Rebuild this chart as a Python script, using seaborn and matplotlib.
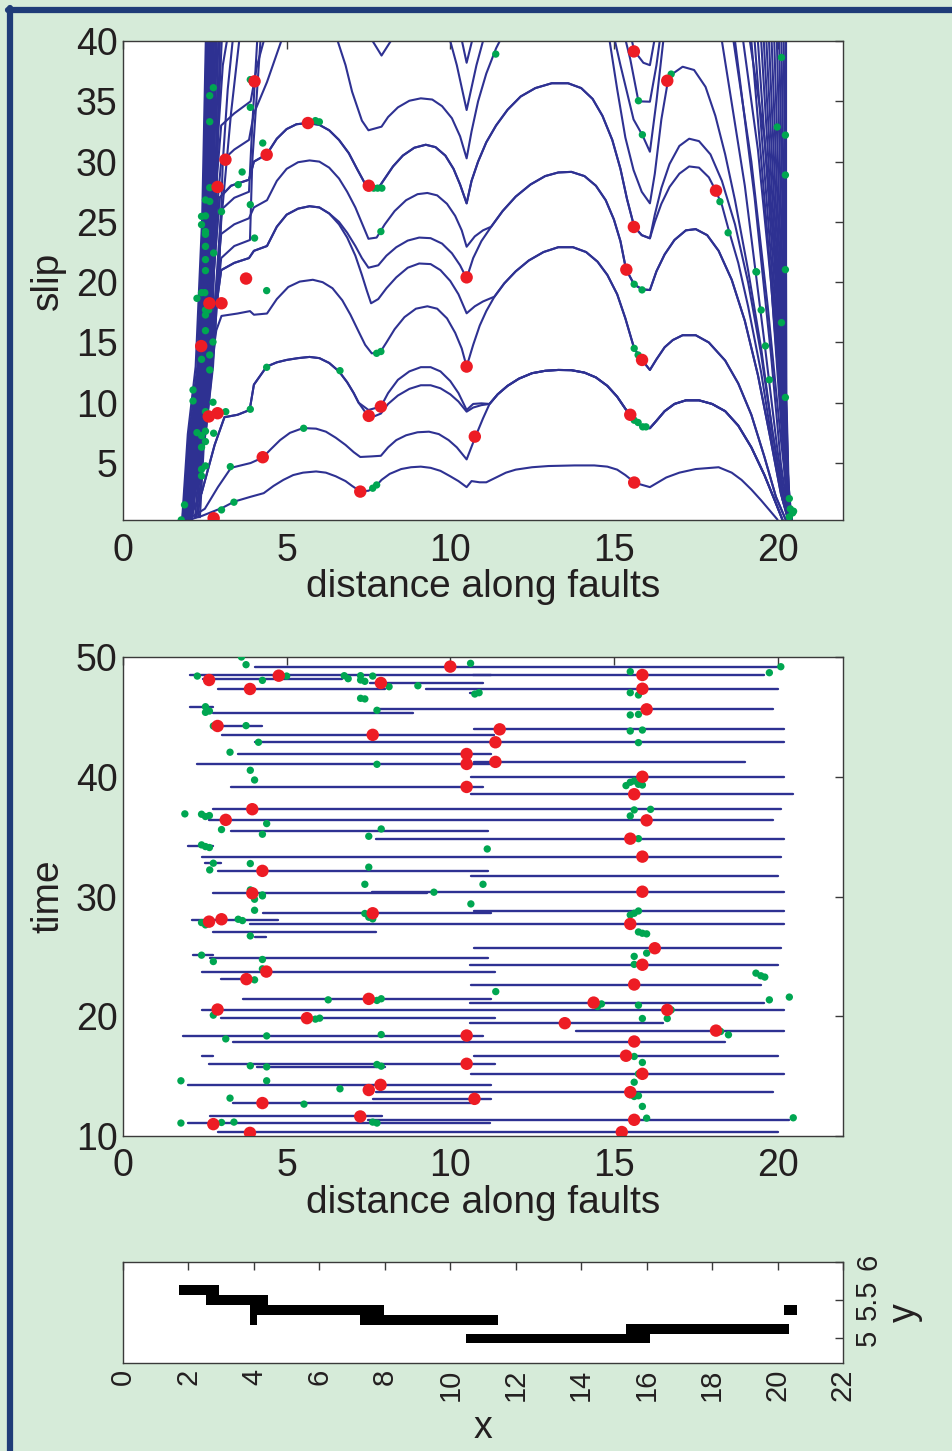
import numpy as np
import pandas as pd
import matplotlib
matplotlib.use('Agg')
import matplotlib.pyplot as plt
import seaborn as sns
from matplotlib.lines import Line2D

# ---------------- DATA ----------------
# Top panel: slip profiles, stored per fault segment (x, slip)
# left parts (faults 1-3)
L1 = [(1.78,0.1),(2.4,0.6),(3.05,1.3),(3.4,1.8),(3.9,2.2),(4.3,2.5),(4.6,3.1),(4.9,3.6),(5.2,4.0),(5.5,4.2),(5.9,4.3),(6.2,4.2),(6.5,3.9),(6.8,3.5),(7.0,3.1)]
L2 = [(1.9,0.2),(2.5,1.2),(2.9,3.0),(3.3,4.6),(3.9,5.0),(4.27,5.45),(4.5,6.1),(4.8,6.9),(5.1,7.5),(5.5,7.9),(5.9,7.85),(6.2,7.6),(6.5,7.1),(6.8,6.5),(7.05,5.9)]
L3 = [(2.0,0.3),(2.4,2.5),(2.8,6.5),(3.1,8.8),(3.5,9.0),(3.87,9.4),(4.0,11.5),(4.39,13.0),(4.7,13.35),(5.0,13.55),(5.35,13.7),(5.7,13.8),(6.0,13.7),(6.3,13.3),(6.6,12.6),(6.85,11.7),(7.05,10.8)]
L4 = [(2.0,0.3),(2.4,5.0),(2.64,12.0),(2.85,16.0),(3.01,17.2),(3.5,17.4),(3.88,17.6),(4.0,17.3),(4.4,17.4),(4.7,18.6),(5.05,19.6),(5.4,20.05),(5.8,20.2),(6.1,20.0),(6.4,19.5),(6.7,18.5),(6.95,17.3),(7.2,15.9),(7.4,14.8)]
L5 = [(2.05,0.4),(2.45,8.0),(2.75,16.0),(3.0,21.0),(3.4,21.6),(3.85,22.0),(4.0,22.6),(4.4,23.0),(4.7,24.6),(5.0,25.6),(5.35,26.1),(5.7,26.3),(6.0,26.2),(6.3,25.7)]
L5a = [(6.6,24.8),(6.85,23.7),(7.1,22.2),(7.3,20.6),(7.45,19.3)]
L5b = [(6.6,25.0),(6.85,24.1),(7.1,23.0),(7.3,22.0)]
L7 = [(2.1,0.5),(2.5,9.0),(2.8,18.0),(3.0,24.0),(3.4,24.8),(3.85,25.3),(4.0,26.2),(4.4,26.8),(4.7,28.4),(5.0,29.4),(5.35,29.95),(5.7,30.1),(6.0,30.0),(6.3,29.5),(6.6,28.6),(6.85,27.5),(7.1,26.2),(7.3,24.9)]
L8 = [(2.1,0.5),(2.5,10.0),(2.75,20.0),(2.95,27.0),(3.3,28.0),(3.85,28.5),(4.0,30.0),(4.39,30.6),(4.7,31.9),(5.0,32.7),(5.3,33.1),(5.65,33.2),(6.0,33.05),(6.3,32.6),(6.6,31.8),(6.9,30.7),(7.15,29.4)]
L9 = [(2.2,0.5),(2.55,12.0),(2.8,24.0),(3.0,30.0),(3.4,31.0),(3.85,31.8),(4.0,34.0),(4.4,36.6),(4.9,40.5),(5.5,43.0),(6.2,42.5),(6.5,40.5),(6.8,38.0),(7.0,35.8),(7.3,33.4)]
# fault-5 arches (x 7.2 - 10.5)
F5A = [(7.25,2.65),(7.5,2.7),(7.7,3.0),(7.9,3.6),(8.15,4.1),(8.5,4.5),(8.8,4.65),(9.1,4.7),(9.4,4.6),(9.7,4.35),(10.0,3.9),(10.25,3.5),(10.5,3.0)]
F5B = [(7.25,5.5),(7.6,5.55),(7.88,5.6),(8.1,6.3),(8.35,6.9),(8.65,7.3),(9.0,7.55),(9.35,7.6),(9.65,7.4),(9.95,6.9),(10.2,6.3),(10.5,5.3),(10.77,7.19),(11.0,8.7)]
F5C = [(7.2,10.0),(7.5,8.85),(7.7,8.9),(7.88,9.1),(8.1,9.9),(8.4,10.6),(8.75,11.15),(9.1,11.45),(9.4,11.45),(9.7,11.2),(10.0,10.7),(10.25,10.1),(10.5,9.26),(10.7,9.6),(10.95,9.8)]
F5C2 = [(7.2,10.0),(7.5,9.4),(7.88,9.68),(8.1,10.8),(8.4,11.9),(8.75,12.6),(9.1,12.95),(9.4,12.95),(9.7,12.6),(10.0,11.8),(10.25,10.8),(10.5,9.4),(10.7,9.9),(10.95,9.95)]
F5D = [(7.6,14.1),(7.85,14.15),(8.05,15.0),(8.3,16.1),(8.6,17.1),(8.95,17.8),(9.3,18.0),(9.6,17.8),(9.9,17.0),(10.15,15.8),(10.35,14.5),(10.5,13.0),(10.7,14.8),(10.9,16.4),(11.1,17.6)]
F5E = [(7.58,18.25),(7.8,18.6),(8.05,19.5),(8.35,20.4),(8.7,21.2),(9.05,21.55),(9.4,21.5),(9.7,21.0),(10.0,20.1),(10.25,19.0),(10.5,17.42),(10.75,18.0),(11.0,18.4)]
F5F = [(7.5,21.2),(7.8,21.4),(8.05,22.2),(8.35,22.9),(8.7,23.45),(9.05,23.7),(9.4,23.65),(9.75,23.2),(10.05,22.4),(10.3,21.4),(10.5,20.32),(10.7,22.0),(10.95,23.4)]
F5G = [(7.5,23.6),(7.75,23.7),(8.0,24.8),(8.3,25.9),(8.65,26.8),(9.0,27.3),(9.3,27.4),(9.6,27.2),(9.9,26.5),(10.15,25.5),(10.35,24.3),(10.5,22.94),(10.75,23.8),(11.0,24.3)]
F5H = [(7.43,28.0),(7.8,27.8),(8.0,28.6),(8.25,29.6),(8.55,30.5),(8.9,31.15),(9.25,31.4),(9.55,31.2),(9.85,30.5),(10.1,29.4),(10.3,28.1),(10.5,26.54)]
F5I = [(7.5,32.6),(7.9,32.9),(8.1,33.7),(8.4,34.5),(8.75,35.05),(9.1,35.25),(9.45,35.15),(9.75,34.6),(10.05,33.6),(10.3,32.1),(10.5,30.27)]
# fault-6 arches (x 10.5 - 16.1)
F6A = [(10.5,3.0),(10.65,3.5),(10.9,3.4),(11.1,3.4),(11.4,3.8),(11.7,4.2),(12.0,4.45),(12.5,4.65),(13.0,4.75),(13.8,4.8),(14.4,4.8),(14.8,4.7),(15.1,4.45),(15.35,4.0),(15.65,3.35),(16.1,3.0)]
F6B = [(11.2,9.9),(11.45,10.7),(11.75,11.4),(12.1,12.0),(12.5,12.45),(12.9,12.65),(13.3,12.72),(13.7,12.7),(14.1,12.5),(14.45,12.1),(14.8,11.4),(15.1,10.5),(15.35,9.5),(15.5,9.0),(15.7,8.3),(15.9,7.95),(16.1,7.89)]
F6C = [(11.35,18.8),(11.65,19.9),(12.0,20.9),(12.4,21.8),(12.85,22.5),(13.3,22.9),(13.75,22.9),(14.15,22.5),(14.5,21.7),(14.8,20.6),(15.1,19.0),(15.35,17.0),(15.62,14.5),(15.87,13.5),(16.1,12.72)]
F6D = [(11.25,24.6),(11.6,25.9),(12.0,27.1),(12.45,28.1),(12.9,28.8),(13.3,29.1),(13.7,29.15),(14.1,28.8),(14.45,28.0),(14.75,26.8),(15.0,25.2),(15.2,23.4),(15.37,21.07),(15.62,19.8),(15.87,19.4),(16.1,19.35)]
F6E = [(10.65,28.4),(10.85,30.0),(11.1,31.6),(11.4,33.0),(11.75,34.3),(12.15,35.4),(12.6,36.1),(13.1,36.5),(13.6,36.5),(14.0,36.1),(14.35,35.2),(14.65,33.8),(14.95,31.8),(15.2,29.4),(15.4,26.9),(15.62,24.6),(15.85,23.9),(16.1,23.64)]
# fault-7 arches and right ends (x 16.1 - 20.5)
F7A = [(16.35,3.4),(16.6,3.8),(17.0,4.2),(17.5,4.5),(18.2,4.65),(18.6,4.2),(18.9,3.6),(19.2,2.8),(19.5,1.9),(19.75,1.1),(20.0,0.3)]
F7B = [(16.3,8.5),(16.55,9.3),(16.85,9.9),(17.2,10.2),(17.6,10.2),(18.0,9.9),(18.4,9.3),(18.8,8.1),(19.2,6.3),(19.6,4.0),(19.9,2.0),(20.15,0.3)]
F7C = [(16.3,13.6),(16.55,14.6),(16.8,15.2),(17.1,15.6),(17.5,15.6),(17.9,15.0),(18.4,13.5),(18.8,11.6),(19.2,9.0),(19.6,5.5),(19.95,2.2),(20.25,0.3)]
F7D = [(16.3,20.9),(16.55,22.3),(16.85,23.5),(17.2,24.3),(17.5,24.4),(17.85,23.9),(18.2,22.6),(18.6,20.2),(19.0,16.8),(19.4,12.3),(19.8,6.8),(20.1,2.5),(20.32,0.3)]
F7E = [(16.25,25.0),(16.45,26.5),(16.7,27.9),(17.0,29.0),(17.3,29.6),(17.6,29.5),(17.9,28.7),(18.11,27.6),(18.3,26.4),(18.5,24.4),(18.8,21.6),(19.1,18.0),(19.5,12.5),(19.85,6.5),(20.15,2.0),(20.35,0.2)]
F7F = [(16.25,25.6),(16.45,27.8),(16.7,29.8),(17.0,31.3),(17.3,31.9),(17.6,31.7),(17.95,30.6),(18.3,28.4),(18.7,24.8),(19.1,20.0),(19.5,14.0),(19.85,7.5),(20.2,1.8),(20.37,0.2)]
TAIL9 = [(10.65,32.5),(10.85,35.0),(11.1,37.3),(11.4,39.4),(11.7,41.0),(12.5,44.0),(14.0,44.0),(14.5,42.3),(14.87,40.0),(15.1,36.0),(15.35,32.0),(15.6,29.3),(15.85,27.5),(16.1,26.54),(16.25,29.0),(16.45,33.5),(16.62,36.2),(16.8,37.3),(17.1,37.87),(17.45,37.6),(17.8,36.2),(18.1,33.8),(18.4,30.6),(18.7,26.8),(19.1,21.0),(19.5,14.5),(19.85,7.5),(20.15,2.5),(20.4,0.1)]
C10 = [(2.25,0.5),(2.6,14.0),(2.85,28.0),(3.0,33.0),(3.4,34.0),(3.9,35.0),(4.1,38.0),(4.4,41.0),(5.0,45.0),(6.5,45.0),(7.4,41.0),(7.9,38.8),(8.3,40.5),(9.0,44.0),(9.8,42.0),(10.2,38.0),(10.5,34.28),(10.8,38.0),(11.2,42.0),(12.5,46.0),(14.0,46.0),(14.7,44.0),(15.2,38.0),(15.6,33.5),(15.87,32.2),(16.1,30.82),(16.3,35.0),(16.55,41.0),(17.5,46.0),(18.6,41.0),(19.2,30.0),(19.7,18.0),(20.1,7.0),(20.35,1.0),(20.42,0.1)]
C11 = [(2.3,0.5),(2.65,16.0),(2.9,32.0),(3.05,38.0),(3.3,42.0),(5.0,48.0),(9.5,48.0),(10.2,42.0),(10.5,38.2),(10.8,41.5),(11.5,48.0),(14.5,48.0),(15.0,44.0),(15.5,38.5),(15.75,35.0),(16.1,34.97),(16.3,38.0),(16.45,41.0),(17.5,48.0),(18.9,41.0),(19.4,31.0),(19.8,20.0),(20.15,8.0),(20.38,1.0),(20.45,0.1)]
C12 = [(2.35,0.5),(2.7,18.0),(2.95,36.0),(3.05,42.0),(5.0,50.0),(10.0,50.0),(15.0,46.0),(15.3,43.0),(15.62,39.2),(15.9,38.2),(16.1,38.0),(16.3,41.0),(17.5,50.0),(19.1,41.0),(19.6,32.0),(19.95,21.0),(20.2,9.0),(20.38,1.5),(20.45,0.1)]
S1 = [(1.95,0.0),(2.5,7.0),(2.75,13.0),(2.95,22.0),(3.05,30.0),(3.2,36.0),(3.35,40.0),(3.45,44.0)]
S2 = [(2.0,0.0),(2.55,8.0),(2.8,15.0),(3.0,25.0),(3.3,34.0),(3.55,40.0),(3.65,44.0)]
S3 = [(2.05,0.0),(2.6,10.0),(2.85,20.0),(3.0,26.0),(3.4,27.0),(3.85,27.5),(3.95,33.0),(4.1,40.0),(4.2,44.0)]
S4 = [(2.1,0.0),(2.7,14.0),(3.0,22.0),(3.4,23.0),(3.88,23.5),(3.95,30.0),(4.2,40.0),(4.3,44.0)]
RS1 = [(17.6,44.0),(18.3,40.0),(19.0,28.0),(19.6,15.0),(20.0,6.0),(20.3,0.5)]
RS2 = [(18.1,44.0),(18.7,40.0),(19.3,27.0),(19.8,14.0),(20.1,5.0),(20.35,0.3)]

PROFILES = [
    L1 + F5A + F6A + F7A,
    L2 + F5B + F6B + F7B,
    L3 + F5C + F6B + F7B,
    L3 + F5C2 + F6B + F7B,
    L4 + F5D + F6C + F7C,
    L5 + L5a + F5E + F6C + F7C,
    L5 + L5b + F5F + F6D + F7D,
    L7 + F5G + F6D + F7D,
    L8 + F5H + F6E + F7E,
    L8 + F5H + F6E + F7F,
    L9 + F5I + TAIL9,
    C10, C11, C12, S1, S2, S3, S4, RS1, RS2]

# dense left fan: x position at the slip levels below
FAN_L_SLIP = [0.0, 7.4, 13.0, 25.4, 40.0, 45.0]
FAN_L_X = [
    (1.80, 1.98, 2.22, 2.42, 2.53, 2.56), (1.81, 2.02, 2.27, 2.45, 2.55, 2.58),
    (1.82, 2.06, 2.31, 2.48, 2.57, 2.60), (1.83, 2.10, 2.34, 2.51, 2.59, 2.62),
    (1.84, 2.13, 2.37, 2.53, 2.61, 2.64), (1.85, 2.16, 2.40, 2.56, 2.63, 2.66),
    (1.86, 2.19, 2.42, 2.58, 2.65, 2.68), (1.87, 2.22, 2.45, 2.61, 2.68, 2.71),
    (1.88, 2.25, 2.48, 2.64, 2.71, 2.74), (1.89, 2.28, 2.51, 2.67, 2.74, 2.77),
    (1.90, 2.32, 2.54, 2.70, 2.78, 2.81), (1.91, 2.36, 2.57, 2.73, 2.82, 2.85),
    (1.93, 2.40, 2.60, 2.76, 2.86, 2.89), (1.95, 2.45, 2.64, 2.80, 2.91, 2.94),
    (1.97, 2.50, 2.68, 2.84, 2.96, 2.99)]
# dense right fan
FAN_R_SLIP = [45.0, 40.0, 22.0, 10.5, 3.0, 0.0]
FAN_R_X = [
    (19.15, 19.20, 19.75, 20.05, 20.25, 20.36), (19.25, 19.30, 19.80, 20.08, 20.26, 20.37),
    (19.35, 19.40, 19.85, 20.10, 20.27, 20.38), (19.45, 19.50, 19.90, 20.12, 20.28, 20.38),
    (19.54, 19.58, 19.94, 20.14, 20.28, 20.39), (19.62, 19.66, 19.98, 20.16, 20.29, 20.40),
    (19.70, 19.74, 20.02, 20.18, 20.30, 20.40), (19.79, 19.82, 20.06, 20.20, 20.30, 20.41),
    (19.87, 19.90, 20.10, 20.21, 20.31, 20.41), (19.95, 19.98, 20.14, 20.23, 20.32, 20.42),
    (20.03, 20.05, 20.18, 20.24, 20.32, 20.42), (20.10, 20.12, 20.21, 20.25, 20.33, 20.43),
    (20.18, 20.19, 20.24, 20.26, 20.33, 20.43), (20.26, 20.26, 20.26, 20.27, 20.34, 20.44)]

TOP_RED_X = [4.02,3.13,2.89,4.39,5.65,7.51,3.76,10.5,15.61,16.63,18.12,15.61,15.38,2.64,3.01,2.39,2.62,2.89,4.27,2.77,7.25,7.51,7.88,10.5,10.75,15.86,15.5,15.62]
TOP_RED_S = [36.66,30.16,27.9,30.57,33.2,28.0,20.3,20.4,39.14,36.71,27.59,24.58,21.04,18.25,18.25,14.7,8.86,9.13,5.48,0.42,2.63,8.91,9.68,13.0,7.19,13.55,9.0,3.38]
TOP_GREEN = [
    (3.89,36.8),(2.76,36.13),(2.65,35.47),(3.89,34.5),(2.65,33.31),(4.27,31.54),(3.64,29.14),(3.52,28.09),
    (2.65,27.84),(2.52,26.82),(2.65,26.7),(3.01,25.85),(3.89,26.43),(2.4,25.46),(2.52,25.5),(2.4,24.77),
    (2.52,24.2),(2.52,23.97),(4.02,23.66),(2.52,22.97),(2.77,22.42),(2.52,21.87),(2.52,20.96),(5.88,33.4),
    (6.0,33.3),(7.66,27.8),(7.78,27.8),(7.91,27.8),(7.88,24.2),(11.39,38.92),(16.75,37.26),(15.75,35.05),
    (15.87,32.23),(20.12,38.64),(19.99,32.87),(20.24,32.2),(20.24,28.89),(18.24,26.68),(18.49,24.1),
    (19.36,20.84),(20.24,21.04),(4.39,19.3),(2.5,19.13),(2.4,19.13),(2.26,18.66),(2.52,17.7),(2.52,17.28),
    (2.62,17.7),(2.52,15.98),(2.75,15.04),(2.65,13.96),(2.4,13.6),(2.65,12.72),(4.39,12.94),(2.14,11.06),
    (2.14,10.15),(2.52,9.26),(2.75,10.04),(3.14,9.26),(3.89,9.46),(2.26,7.52),(2.4,7.27),(2.52,7.64),
    (2.77,7.47),(2.52,6.78),(2.4,6.31),(2.52,4.76),(2.4,4.48),(2.4,3.93),(3.28,4.7),(1.88,1.53),(3.01,1.11),
    (3.39,1.75),(1.78,0.28),(5.52,7.88),(6.63,12.66),(7.75,14.1),(7.88,14.25),(7.63,2.91),(7.75,3.18),
    (15.62,19.83),(15.86,19.36),(15.62,14.51),(15.74,13.96),(15.62,8.55),(15.74,8.36),(15.88,8.0),
    (15.98,8.0),(19.34,20.87),(19.5,17.69),(20.12,16.64),(19.63,14.71),(19.75,11.9),(20.24,10.44),
    (20.36,2.05),(20.39,1.19),(20.46,0.86),(20.49,1.0),(20.36,0.53)]

# Middle panel: rupture extents (time, x start, x end)
RUP_T = [49.19,48.47,48.5,48.14,47.8,47.33,47.33,47.02,45.8,45.64,45.3,44.24,43.96,43.52,42.88,41.9,41.24,41.07,40.0,39.15,
         38.54,37.29,36.4,35.48,34.83,34.25,33.33,32.78,32.14,31.75,30.4,30.27,28.82,28.6,28.0,27.71,27.07,26.65,25.68,25.13,
         24.87,24.3,23.73,23.1,22.65,21.45,21.14,20.55,19.84,19.42,18.8,18.39,17.85,16.72,16.7,16.03,15.8,15.19,14.27,13.7,
         13.1,12.75,11.63,11.35,11.07,10.3]
RUP_X0 = [4.03,2.05,10.7,2.45,7.55,2.91,9.27,10.59,2.05,7.74,2.76,2.76,10.74,3.01,4.03,3.52,10.74,2.25,10.64,3.3,
          10.64,2.76,2.64,3.3,7.74,2.0,2.4,2.5,2.91,10.64,7.6,2.76,10.74,4.28,2.1,3.87,2.76,4.03,10.74,2.14,
          2.66,10.6,2.4,3.0,10.64,3.68,10.6,2.4,3.0,10.6,13.85,1.84,3.37,2.4,10.74,2.64,4.1,10.64,2.0,7.74,
          7.64,3.37,2.66,7.5,2.0,2.9]
RUP_X1 = [20.05,11.25,19.6,6.7,11.0,8.0,20.0,10.9,2.76,19.85,8.86,4.26,20.2,11.35,20.2,11.25,19.0,11.25,20.2,11.0,
          20.46,20.1,19.85,11.15,20.2,2.76,20.1,3.0,11.15,20.0,20.2,9.3,20.2,11.25,4.75,20.2,7.74,4.38,20.1,2.76,
          11.15,20.0,11.38,4.03,19.5,11.25,19.6,20.2,11.38,16.5,20.2,11.0,18.4,2.76,20.0,11.38,8.0,20.2,11.25,19.85,
          11.25,10.64,7.9,20.35,11.2,20.0]
HYPO_X = [10.0,2.63,4.76,7.88,15.87,3.88,15.87,16.0,2.89,11.51,7.63,11.38,10.5,11.38,10.5,15.87,10.5,15.62,3.95,3.14,
          16.0,15.5,15.87,4.26,15.87,3.95,7.63,2.63,3.01,15.5,16.25,4.38,15.87,3.77,15.62,7.51,14.38,2.89,16.63,5.62,
          13.5,18.12,10.5,15.62,15.37,10.5,15.87,7.87,15.5,7.51,10.74,4.26,7.25,15.62,2.76,3.88,15.24]
HYPO_T = [49.2,48.08,48.44,47.83,48.5,47.33,47.35,45.63,44.24,43.96,43.5,42.88,41.9,41.24,41.07,40.0,39.15,38.54,37.29,36.4,
          36.36,34.83,33.33,32.14,30.4,30.27,28.6,27.9,28.1,27.71,25.68,23.73,24.3,23.1,22.65,21.45,21.14,20.56,20.53,19.84,
          19.42,18.8,18.39,17.89,16.7,16.03,15.19,14.27,13.66,13.84,13.1,12.75,11.63,11.35,10.99,10.26,10.33]
MID_GREEN = [
    (3.62,50.0),(3.76,49.36),(10.62,49.47),(2.27,48.41),(4.26,48.05),(5.0,48.41),(6.76,48.44),(6.88,48.19),(7.26,48.44),
    (7.26,48.08),(7.39,47.97),(7.63,48.41),(8.13,47.52),(9.01,47.6),(7.26,46.55),(7.39,46.5),(10.75,46.91),(10.88,47.02),
    (2.52,45.85),(2.52,45.38),(2.64,45.49),(7.76,45.55),(2.76,44.24),(3.76,44.27),(4.14,42.88),(3.27,42.05),(7.76,41.04),
    (3.89,40.54),(4.02,39.73),(1.89,36.9),(2.4,36.87),(2.52,36.68),(2.64,36.76),(4.39,36.09),(3.01,35.59),(4.26,35.2),
    (7.89,35.64),(7.51,35.03),(11.13,33.97),(2.4,34.31),(2.52,34.17),(2.64,34.09),(2.76,32.78),(3.89,32.75),(2.65,32.22),
    (7.51,32.45),(7.39,31.02),(11.0,31.02),(3.89,30.55),(4.26,30.13),(9.5,30.36),
    (4.02,29.77),(4.26,30.05),(10.63,29.38),(4.02,28.85),(7.39,28.58),(7.51,28.27),(7.63,28.13),(2.4,27.82),(2.52,27.63),
    (3.52,28.1),(3.65,27.99),(3.89,26.71),(2.4,25.1),(2.76,24.57),(4.26,24.74),(4.26,23.96),(4.02,23.04),(11.39,22.06),
    (6.27,21.37),(7.76,21.32),(7.89,21.46),(2.76,20.09),(5.88,19.76),(6.01,19.84),(4.39,18.36),(3.14,18.11),(7.89,18.47),
    (3.89,15.86),(4.39,15.77),(7.76,15.97),(7.89,15.83),(1.77,14.61),(4.39,14.61),(6.63,13.94),(3.27,13.16),(5.53,12.66),
    (3.01,11.13),(3.39,11.16),(1.77,11.08),(7.63,11.16),(7.76,11.08),
    (20.1,49.19),(15.5,48.78),(19.75,48.69),(15.5,47.02),(15.75,46.83),(15.5,45.16),(15.75,45.21),(15.5,43.82),(15.87,43.9),
    (15.75,42.85),(15.37,39.26),(15.5,39.54),(15.62,39.65),(15.75,39.37),(15.87,39.31),(15.62,37.23),(16.12,37.28),
    (15.5,36.73),(15.75,34.83),(15.5,28.46),(15.62,28.6),(15.75,28.79),(15.75,27.04),(15.87,26.93),(16.0,26.88),
    (16.0,25.27),(15.62,25.0),(15.62,24.33),(19.34,23.6),(19.49,23.38),(19.61,23.27),(19.75,21.37),(20.36,21.6),
    (14.62,21.03),(14.5,20.81),(15.75,20.92),(16.75,20.53),(15.87,19.81),(16.63,19.81),(18.26,18.73),(18.5,18.45),
    (15.62,16.64),(15.87,16.14),(15.75,15.19),(15.62,14.49),(15.5,13.44),(15.62,13.3),(15.75,13.36),(15.87,12.47),
    (16.0,11.49),(20.48,11.52)]

# Bottom panel: fault traces (x start, x end, y)
FAULT_X0 = [1.7, 2.55, 3.88, 3.88, 7.24, 10.47, 15.37, 20.2]
FAULT_X1 = [2.93, 4.42, 7.96, 4.09, 11.45, 16.1, 20.34, 20.6]
FAULT_Y = [5.63, 5.50, 5.37, 5.24, 5.24, 4.99, 5.12, 5.37]
FAULT_H = 0.128

# ---------------- STYLE ----------------
sns.set_theme(style='white')
plt.rcParams['font.family'] = ['Liberation Sans', 'DejaVu Sans']

BG = '#d6ebd9'
NAVY = '#1f3c78'
BLUE = '#2e3192'
RED = '#ed1c24'
GREEN = '#00a651'
TXT = '#231f20'
FRAME = '#3a3a3a'

fig = plt.figure(figsize=(9.52, 14.51), dpi=100, facecolor=BG)
ax1 = fig.add_axes([0.1292, 0.6416, 0.7563, 0.3301])
ax2 = fig.add_axes([0.1292, 0.2171, 0.7563, 0.3301])
ax3 = fig.add_axes([0.1292, 0.0607, 0.7563, 0.0696])

def style(ax, size=27):
    ax.set_facecolor('white')
    for s in ax.spines.values():
        s.set_color(FRAME)
        s.set_linewidth(1.0)
    ax.tick_params(direction='in', length=6, width=1, colors=FRAME, labelcolor=TXT,
                   top=True, right=True, labelsize=size)

# ---------- top panel ----------
rows = []
for i, prof in enumerate(PROFILES):
    for j, (x, s) in enumerate(prof):
        rows.append(('p%d' % i, j, x, s))
for i, xs in enumerate(FAN_L_X):
    for j, (x, s) in enumerate(zip(xs, FAN_L_SLIP)):
        rows.append(('l%d' % i, j, x, s))
for i, xs in enumerate(FAN_R_X):
    for j, (x, s) in enumerate(zip(xs, FAN_R_SLIP)):
        rows.append(('r%d' % i, j, x, s))
top_df = pd.DataFrame(rows, columns=['curve', 'order', 'x', 'slip'])
sns.lineplot(data=top_df, x='x', y='slip', units='curve', estimator=None, sort=False,
             color=BLUE, lw=1.5, ax=ax1, legend=False)
tg = pd.DataFrame(TOP_GREEN, columns=['x', 'slip'])
sns.scatterplot(data=tg, x='x', y='slip', color=GREEN, s=28, edgecolor='none', ax=ax1, zorder=3)
sns.scatterplot(x=TOP_RED_X, y=TOP_RED_S, color=RED, s=80, edgecolor='none', ax=ax1, zorder=4)
style(ax1)
ax1.set_xlim(0, 22)
ax1.set_ylim(0.27, 40)
ax1.set_xticks([0, 5, 10, 15, 20])
ax1.set_yticks([5, 10, 15, 20, 25, 30, 35, 40])
ax1.tick_params(axis='x', pad=9)
ax1.tick_params(axis='y', pad=4)
ax1.set_xlabel('distance along faults', fontsize=28, color=TXT)
ax1.set_ylabel('slip', fontsize=28, color=TXT)

# ---------- middle panel ----------
seg_rows = []
for i, (t, a, b) in enumerate(zip(RUP_T, RUP_X0, RUP_X1)):
    seg_rows.append((i, a, t))
    seg_rows.append((i, b, t))
seg_df = pd.DataFrame(seg_rows, columns=['event', 'x', 'time'])
sns.lineplot(data=seg_df, x='x', y='time', units='event', estimator=None, sort=False,
             color=BLUE, lw=1.7, ax=ax2, legend=False)
mg = pd.DataFrame(MID_GREEN, columns=['x', 'time'])
sns.scatterplot(data=mg, x='x', y='time', color=GREEN, s=28, edgecolor='none', ax=ax2, zorder=3)
sns.scatterplot(x=HYPO_X, y=HYPO_T, color=RED, s=80, edgecolor='none', ax=ax2, zorder=4)
style(ax2)
ax2.set_xlim(0, 22)
ax2.set_ylim(10, 50)
ax2.set_xticks([0, 5, 10, 15, 20])
ax2.set_yticks([10, 20, 30, 40, 50])
ax2.tick_params(axis='x', pad=9)
ax2.tick_params(axis='y', pad=4)
ax2.set_xlabel('distance along faults', fontsize=28, color=TXT)
ax2.set_ylabel('time', fontsize=28, color=TXT)

for ax in (ax1, ax2):
    ax.xaxis.label.set_verticalalignment('center')
    ax.xaxis.set_label_coords(0.5, -0.14)
    ax.yaxis.label.set_verticalalignment('center')
    ax.yaxis.set_label_coords(-0.104, 0.5)

# ---------- bottom panel ----------
fd = pd.DataFrame({'x0': FAULT_X0, 'x1': FAULT_X1, 'y': FAULT_Y})
ax3.barh(fd['y'], fd['x1'] - fd['x0'], left=fd['x0'], height=FAULT_H, color='black', linewidth=0)
style(ax3, size=21)
ax3.set_xlim(0, 22)
ax3.set_ylim(4.67, 6.0)
ax3.set_xticks(range(0, 23, 2))
ax3.set_yticks([5, 5.5, 6])
ax3.set_yticklabels(['5', '5.5', '6'])
ax3.tick_params(axis='y', labelleft=False, labelright=True, pad=8)
ax3.tick_params(axis='x', labelrotation=90, pad=4)
for lab in ax3.get_yticklabels():
    lab.set_rotation(90)
    lab.set_verticalalignment('center')
ax3.set_xlabel('x', fontsize=27, color=TXT)
ax3.xaxis.label.set_verticalalignment('center')
ax3.xaxis.set_label_coords(0.5, -0.64)
ax3.yaxis.set_label_position('right')
ax3.set_ylabel('y', fontsize=27, color=TXT, rotation=90)
ax3.yaxis.label.set_verticalalignment('center')
ax3.yaxis.set_label_coords(1.086, 0.5)

# ---------- border ----------
fig.add_artist(Line2D([8/952, 1.0], [1 - 10/1451, 1 - 10/1451], color=NAVY, lw=4.5,
                      transform=fig.transFigure))
fig.add_artist(Line2D([10/952, 10/952], [0.0, 1 - 8/1451], color=NAVY, lw=4.5,
                      transform=fig.transFigure))

fig.savefig('out.png', dpi=100, facecolor=BG)
